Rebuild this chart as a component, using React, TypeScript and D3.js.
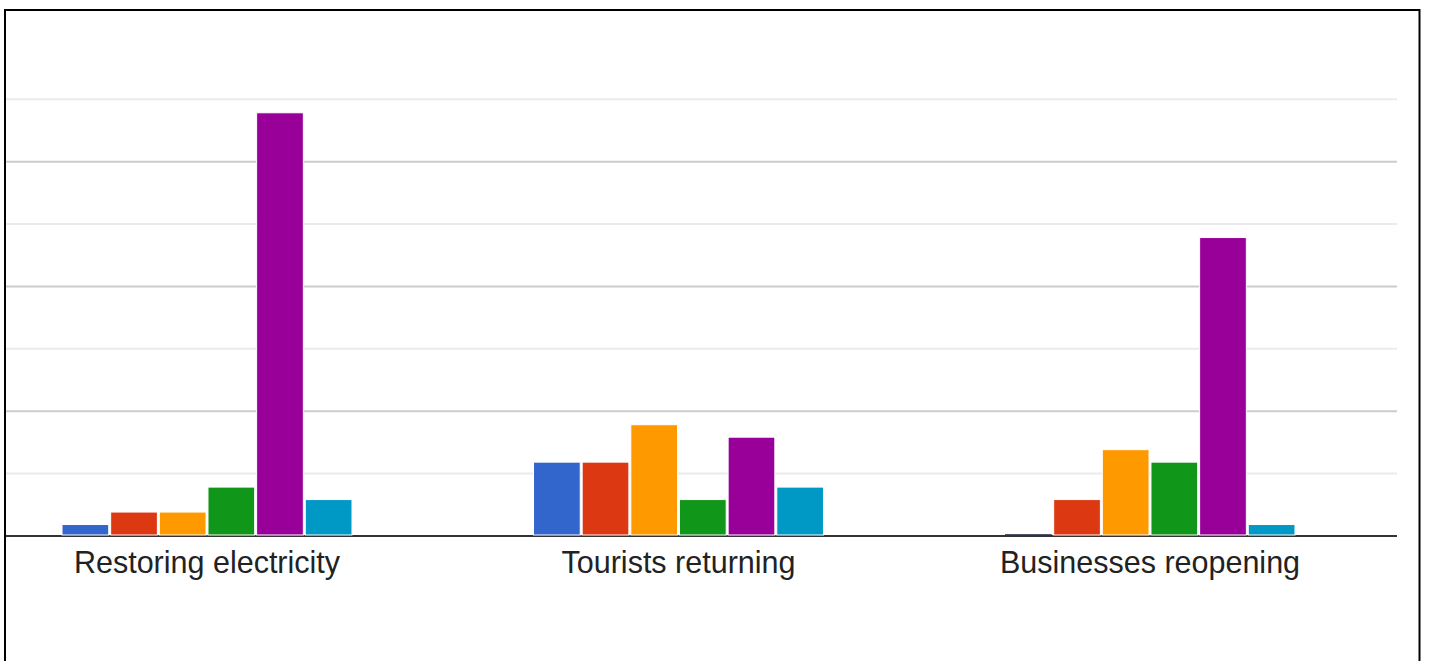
import React from "react";
import * as d3 from "d3";

const categories = ["Restoring electricity", "Tourists returning", "Businesses reopening"];
const seriesNames = ["S1", "S2", "S3", "S4", "S5", "S6"];
const seriesColors = ["#3366cc", "#dc3912", "#ff9900", "#109618", "#990099", "#0099c6"];
const s1 = [1, 6, 0];
const s2 = [2, 6, 3];
const s3 = [2, 9, 7];
const s4 = [4, 3, 6];
const s5 = [34, 8, 24];
const s6 = [3, 4, 1];
const seriesValues = [s1, s2, s3, s4, s5, s6];
const gridValues = [5, 10, 15, 20, 25, 30, 35];
const majorGrid = [10, 20, 30];

export default function App() {
  const W = 1429;
  const H = 661;
  const plotLeft = 5;
  const plotRight = 1397;
  const y = d3.scaleLinear().domain([0, 35]).range([536, 99.3]);
  const x0 = d3
    .scaleBand<string>()
    .domain(categories)
    .range([-28.75, 1385.75])
    .paddingInner(0.385)
    .paddingOuter(0.1925);
  const x1 = d3
    .scaleBand<string>()
    .domain(seriesNames)
    .range([0, x0.bandwidth()])
    .paddingInner(0.04);

  return (
    <svg
      width={W}
      height={H}
      style={{ position: "fixed", left: 0, top: 0, background: "#fff" }}
      fontFamily="Arial, 'Liberation Sans', sans-serif"
    >
      <rect x={0} y={0} width={W} height={H} fill="#fff" />
      {gridValues.map((g) => (
        <line
          key={g}
          x1={plotLeft}
          x2={plotRight}
          y1={y(g)}
          y2={y(g)}
          stroke={majorGrid.includes(g) ? "#cccccc" : "#ebebeb"}
          strokeWidth={2}
        />
      ))}
      <line x1={plotLeft} x2={plotRight} y1={536} y2={536} stroke="#333333" strokeWidth={2} />
      {categories.map((c, ci) => (
        <g key={c} transform={`translate(${x0(c)},0)`}>
          {seriesNames.map((s, si) => {
            const v = seriesValues[si][ci];
            const top = y(v) + 1;
            const h = Math.max(1, y(0) - 1 - top);
            return (
              <rect
                key={s}
                x={x1(s)}
                y={y(0) - 1 - h}
                width={x1.bandwidth()}
                height={h}
                fill={v === 0 ? "#4a5570" : seriesColors[si]}
                stroke="#ffffff"
                strokeWidth={v === 0 ? 0 : 1}
              />
            );
          })}
          <text
            x={x0.bandwidth() / 2}
            y={573}
            textAnchor="middle"
            fontSize={30.5}
            fill="#222222"
          >
            {c}
          </text>
        </g>
      ))}
      <rect x={5} y={10} width={1414.5} height={700} fill="none" stroke="#000" strokeWidth={2} />
    </svg>
  );
}
